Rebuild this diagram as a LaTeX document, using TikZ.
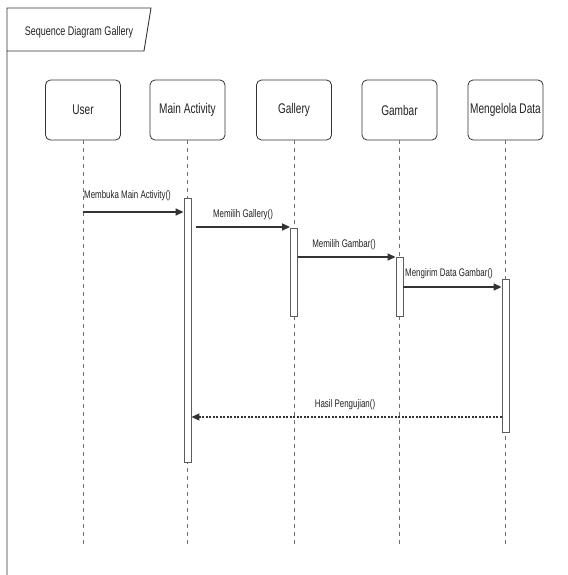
\documentclass[tikz,border=0pt]{standalone}
\usepackage{fontspec}
\setmainfont{Liberation Sans}[FakeStretch=0.72]
\usetikzlibrary{arrows.meta}
\definecolor{ln}{HTML}{333333}
\definecolor{tx}{HTML}{222222}
\tikzset{
  head/.style={draw=ln, line width=0.8pt, rounded corners=5pt, minimum width=75pt, minimum height=60pt, inner sep=1pt, text=tx, font=\fontsize{14}{16}\selectfont},
  lifeline/.style={draw=ln!70, line width=0.8pt, dash pattern=on 4pt off 4pt},
  act/.style={draw=ln!80, fill=white, line width=0.9pt, minimum width=7pt, inner sep=0pt, anchor=north},
  msg/.style={draw=ln, line width=1.6pt, -{Triangle[length=8pt,width=7pt]}},
  ret/.style={draw=ln, line width=1.2pt, dash pattern=on 2pt off 1.5pt, -{Triangle[length=8pt,width=7pt]}},
  lbl/.style={text=tx, font=\fontsize{11}{13}\selectfont, inner sep=0pt},
  frame/.style={draw=ln, line width=0.9pt}
}
\begin{document}
\begin{tikzpicture}[x=1pt,y=-1pt]
\useasboundingbox[fill=white] (0,0) rectangle (567,575);
% frame
\draw[frame] (7,575) -- (7,8) -- (151,8) -- (144,51) -- (7,51);
\node[lbl, font=\fontsize{12.5}{14}\selectfont] (title) at (79,32) {Sequence Diagram Gallery};
% heads
\node[head] (user) at (83,110) {User};
\node[head] (main) at (187.5,110) {Main Activity};
\node[head] (gal) at (294,110) {Gallery};
\node[head] (gam) at (399.5,110) {Gambar};
\node[head] (mdata) at (505.5,110) {Mengelola Data};
\coordinate (bot) at (0,548);
\foreach \n in {user,main,gal,gam,mdata}{
  \draw[lifeline] (\n.south) -- (\n.south |- bot);
}
% activations
\path (main.south |- 0,198) coordinate (a1top);
\path (gal.south |- 0,228) coordinate (a2top);
\path (gam.south |- 0,257) coordinate (a3top);
\path (mdata.south |- 0,279) coordinate (a4top);
\node[act, minimum height=264pt] (actmain) at (a1top) {};
\node[act, minimum height=88pt] (actgal) at (a2top) {};
\node[act, minimum height=59pt] (actgam) at (a3top) {};
\node[act, minimum height=153pt] (actmd) at (a4top) {};
% messages
\coordinate (y1) at (0,212);
\coordinate (y2) at (0,227);
\coordinate (y3) at (0,257);
\coordinate (y4) at (0,287);
\coordinate (y5) at (0,417);
\draw[msg] (user |- y1) -- (actmain.west |- y1);
\node[lbl, anchor=west] (l1) at (84,196) {Membuka Main Activity()};
\draw[msg] ([xshift=5pt]actmain.east |- y2) -- (actgal.west |- y2);
\node[lbl] (l2) at (243,215) {Memilih Gallery()};
\draw[msg] (actgal.east |- y3) -- (actgam.west |- y3);
\node[lbl] (l3) at (344,245) {Memilih Gambar()};
\draw[msg] (actgam.east |- y4) -- (actmd.west |- y4);
\node[lbl] (l4) at (449,274) {Mengirim Data Gambar()};
\draw[ret] (actmd.west |- y5) -- (actmain.east |- y5);
\node[lbl] (l5) at (345,405) {Hasil Pengujian()};
\end{tikzpicture}
\end{document}
